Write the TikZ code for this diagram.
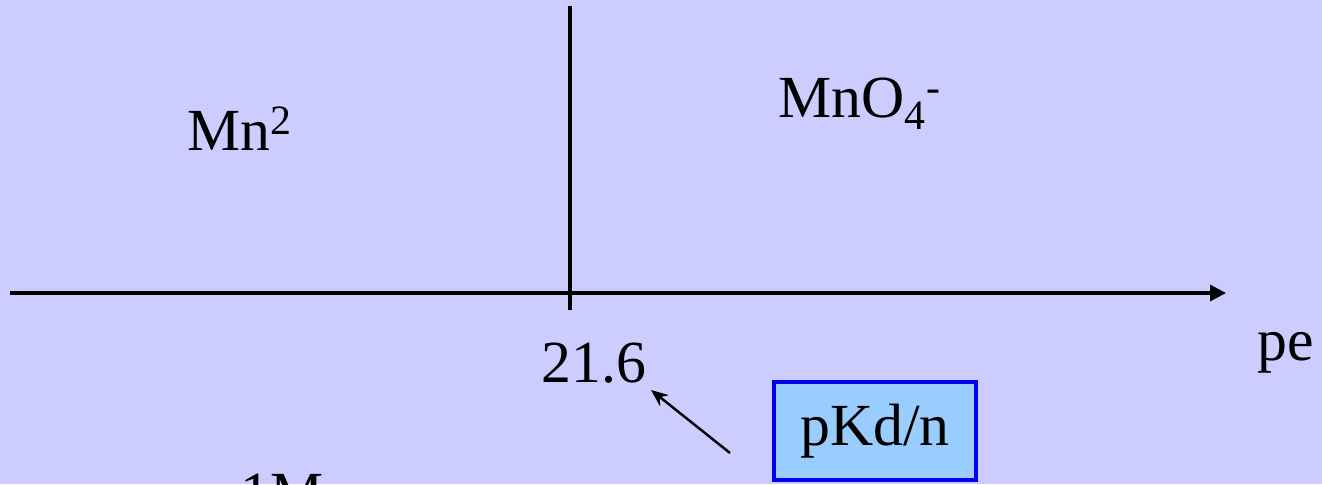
\documentclass[tikz,border=0pt]{standalone}
\usepackage{fontspec}
\setmainfont{Liberation Serif}
\usepackage{xcolor}
\usetikzlibrary{arrows.meta,positioning}

\definecolor{bgpanel}{HTML}{CCCCFF}
\definecolor{boxfill}{HTML}{99CCFF}
\definecolor{boxline}{HTML}{0000EE}

\begin{document}
\begin{tikzpicture}[x=0.02cm, y=-0.02cm,
  lbl/.style={inner sep=0pt, anchor=base west, font=\fontsize{34}{40}\selectfont},
  axis/.style={draw, line width=1.9pt},
  keybox/.style={draw=boxline, fill=boxfill, line width=1.8pt, minimum width=4.04cm, minimum height=1.96cm, font=\fontsize{34}{40}\selectfont},
  pointer/.style={draw, line width=1.4pt, -{Stealth[length=3.4mm, width=2.8mm]}}]
  % background
  \fill[bgpanel] (0,0) rectangle (1322,484);
  \useasboundingbox (0,0) rectangle (1322,484);
  % axes
  \coordinate (vtop) at (570,6);
  \coordinate (vbot) at (570,310);
  \coordinate (xstart) at (10,293);
  \coordinate (xend) at (1226,293);
  \path [axis] (vtop) -- (vbot);
  \path [axis, -{Triangle[length=3.2mm, width=3.2mm]}] (xstart) -- (xend);
  % labels
  \node [lbl] (mn) at (187,150) {Mn\textsuperscript{2}};
  \node [lbl] (mno) at (778,117) {MnO\textsubscript{4}\textsuperscript{-}};
  \node [lbl] (val) at (541,382) {21.6};
  \node [lbl] (pe) at (1257,360) {pe};
  \node [lbl] (conc) at (240,513) {1M};
  \node [keybox] (pkd) at (875,431) {pKd/n};
  \coordinate (tail) at (730,453);
  \coordinate (head) at (651,390);
  \path [pointer] (tail) -- (head);
\end{tikzpicture}
\end{document}
